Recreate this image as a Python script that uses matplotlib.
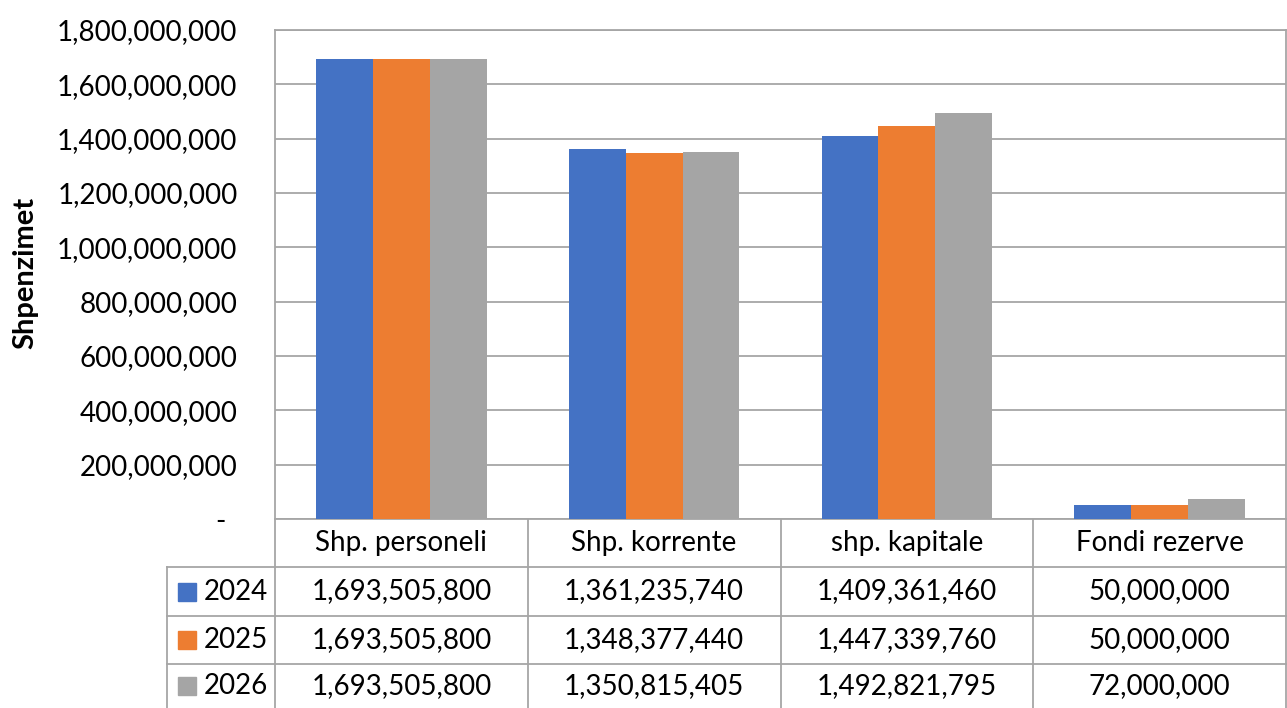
import matplotlib
matplotlib.use("Agg")
import matplotlib.pyplot as plt
from matplotlib.lines import Line2D
from matplotlib.patches import Rectangle
from matplotlib.transforms import ScaledTranslation
import numpy as np

categories = ["Shp. personeli", "Shp. korrente", "shp. kapitale", "Fondi rezerve"]
series_names = ["2024", "2025", "2026"]
v2024 = [1693505800, 1361235740, 1409361460, 50000000]
v2025 = [1693505800, 1348377440, 1447339760, 50000000]
v2026 = [1693505800, 1350815405, 1492821795, 72000000]
series_values = [v2024, v2025, v2026]
colors = ["#4472C4", "#ED7D31", "#A5A5A5"]
yticks = [0, 200000000, 400000000, 600000000, 800000000, 1000000000,
          1200000000, 1400000000, 1600000000, 1800000000]
ylabel = "Shpenzimet"

plt.rcParams["font.family"] = ["Lato", "DejaVu Sans"]
FS = 20
GRID = "#A6A6A6"

W, H = 1287, 708
fig = plt.figure(figsize=(W / 100, H / 100), dpi=100)

def fx(px):
    return px / W

def fy(py):
    return 1 - py / H

left_px, right_px, top_px, bottom_px = 275, 1286, 30, 519
ax = fig.add_axes([fx(left_px), fy(bottom_px), fx(right_px - left_px),
                   (bottom_px - top_px) / H])

n = len(categories)
x = np.arange(n) + 0.5
bw = 0.225
for i, (vals, c) in enumerate(zip(series_values, colors)):
    ax.bar(x + (i - 1) * bw, vals, width=bw, color=c, linewidth=0, zorder=3)

ax.set_xlim(0, n)
ax.set_ylim(0, yticks[-1])
ax.set_yticks(yticks)
ax.set_yticklabels(["-" if v == 0 else f"{v:,}" for v in yticks], fontsize=FS)
ax.tick_params(axis="y", length=0, pad=27)
ax.set_xticks([])
ax.yaxis.grid(True, color=GRID, linewidth=1.3, zorder=0)
for s in ax.spines.values():
    s.set_color(GRID)
    s.set_linewidth(1.3)
lbl0 = ax.get_yticklabels()[0]
lbl0.set_transform(lbl0.get_transform() + ScaledTranslation(-0.12, 0, fig.dpi_scale_trans))

fig.text(fx(25), fy(273), ylabel, rotation=90,
         fontsize=21, fontweight="bold", ha="center", va="center")

# Data table
col_edges = [left_px + (right_px - left_px) * k / n for k in range(n + 1)]
row_edges = [519, 567, 616, 664, 712]
key_left = 167

def hline(y, x0, x1):
    fig.add_artist(Line2D([fx(x0), fx(x1)], [fy(y), fy(y)], color=GRID, lw=1.3))

def vline(xp, y0, y1):
    fig.add_artist(Line2D([fx(xp), fx(xp)], [fy(y0), fy(y1)], color=GRID, lw=1.3))

hline(row_edges[1], key_left, right_px)
hline(row_edges[2], key_left, right_px)
hline(row_edges[3], key_left, right_px)
for k, xp in enumerate(col_edges):
    vline(xp, row_edges[0], H + 5)
vline(key_left, row_edges[1], H + 5)

for j, cat in enumerate(categories):
    cx = (col_edges[j] + col_edges[j + 1]) / 2
    fig.text(fx(cx), fy((row_edges[0] + row_edges[1]) / 2), cat,
             fontsize=FS, ha="center", va="center")

for i, (name, vals, c) in enumerate(zip(series_names, series_values, colors)):
    cy = (row_edges[i + 1] + row_edges[i + 2]) / 2
    if i == 2:
        cy = 686
    fig.add_artist(Rectangle((fx(178), fy(cy + 9)), fx(18), 18 / H,
                             color=c, transform=fig.transFigure))
    fig.text(fx(204), fy(cy), name, fontsize=FS, ha="left", va="center")
    for j, v in enumerate(vals):
        cx = (col_edges[j] + col_edges[j + 1]) / 2
        fig.text(fx(cx), fy(cy), f"{v:,}", fontsize=FS, ha="center", va="center")

fig.savefig("out.png", dpi=100)
